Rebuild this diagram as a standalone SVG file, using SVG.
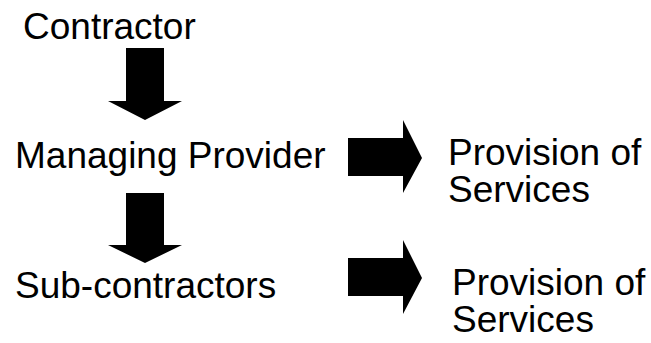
<svg xmlns="http://www.w3.org/2000/svg" width="651" height="343" viewBox="0 0 651 343">
<style>
.t{font-family:"Liberation Sans",Arial,sans-serif;font-size:37px;fill:#000}
.a{fill:#000;stroke:none}
</style>
<rect width="651" height="343" fill="#fff"/>
<g id="contractor"><text class="t" x="23" y="39">Contractor</text></g>
<g id="managing-provider"><text class="t" x="15" y="168">Managing Provider</text></g>
<g id="sub-contractors"><text class="t" x="15" y="298">Sub-contractors</text></g>
<g id="provision-1"><text class="t" x="448" y="165">Provision of</text><text class="t" x="448" y="202">Services</text></g>
<g id="provision-2"><text class="t" x="452" y="295">Provision of</text><text class="t" x="452" y="332">Services</text></g>
<g id="connectors">
<polygon class="a" points="126,48 164,48 164,101 182,101 145,120 108,101 126,101"/>
<polygon class="a" points="126,193 164,193 164,245 182,245 145,263 108,245 126,245"/>
<polygon class="a" points="348,138 403,138 403,120 422,158 403,193 403,176 348,176"/>
<polygon class="a" points="348,258 403,258 403,240 422,278 403,314 403,296 348,296"/>
</g>
</svg>
